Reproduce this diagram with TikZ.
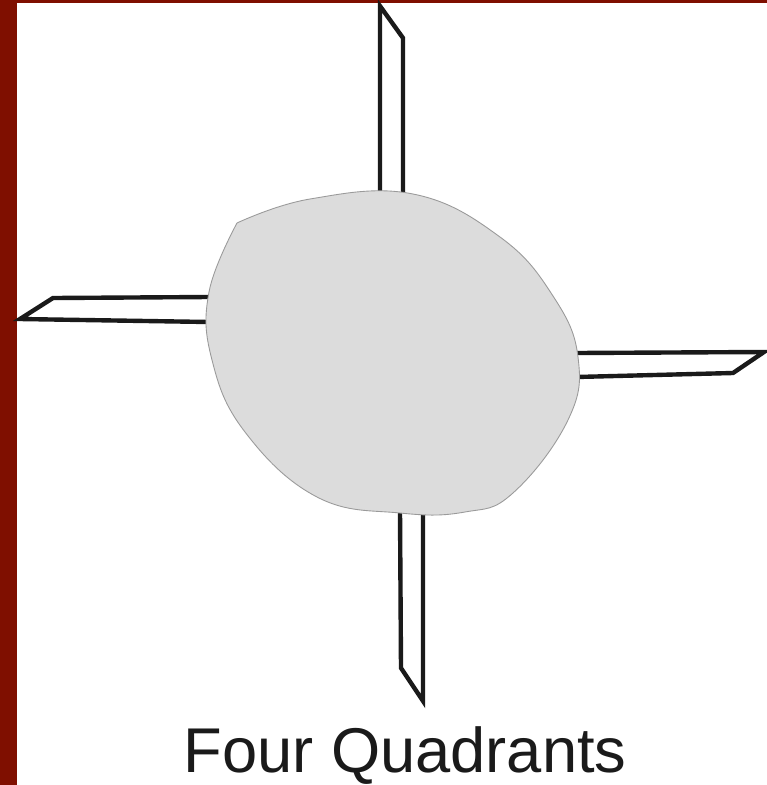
\documentclass[tikz,border=0pt]{standalone}
\usepackage{fontspec}
\setmainfont{Liberation Sans}
\usepackage{tikz}
\usetikzlibrary{positioning}
\definecolor{qframe}{HTML}{7F0F00}
\definecolor{qblob}{HTML}{DCDCDC}
\definecolor{qedge}{HTML}{9A9A9A}
\definecolor{qink}{HTML}{1A1A1A}

\begin{document}
\begin{tikzpicture}[
    x=0.02cm, y=-0.02cm,
    blade/.style={draw=qink, line width=2.5pt},
    blob/.style={draw=qedge, fill=qblob, line width=0.5pt},
    title/.style={font=\fontsize{36}{40}\selectfont, text=qink, anchor=base, inner sep=0pt}
]
    \useasboundingbox (0,0) rectangle (767,785);
    \fill[white] (0,0) rectangle (767,785);

    % Frame
    \fill[qframe] (0,0) rectangle (17,785);
    \fill[qframe] (0,0) rectangle (767,3);

    % Blades
    \draw[blade] (380,192) -- (380,6) -- (403,38) -- (403,192);
    \draw[blade] (209,297) -- (53,298) -- (20,319) -- (209,322);
    \draw[blade] (576,353) -- (764,352) -- (733,373) -- (576,377);
    \draw[blade] (400,510) -- (401,668) -- (423,701) -- (423,510);

    % Central blob
    \draw[blob] plot[smooth, tension=0.7] coordinates {
        (237,223) (310,199) (413,194) (500,237) (553,296) (578,357)
        (568,420) (513,493) (465,512) (400,513) (317,497)
        (245,432) (212,360) (209,292) (237,223)} -- cycle;

    % Title
    \node[title] (quads) at (405,772) {Four Quadrants};
\end{tikzpicture}
\end{document}
